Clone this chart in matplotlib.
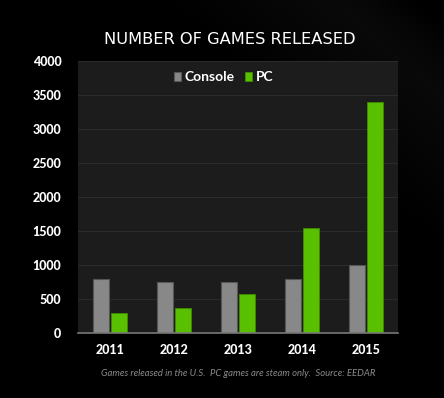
import matplotlib
matplotlib.use("Agg")
import matplotlib.pyplot as plt
import numpy as np

years = ["2011", "2012", "2013", "2014", "2015"]
console = [800, 750, 750, 800, 1000]
pc = [300, 375, 580, 1550, 3400]
yticks = [0, 500, 1000, 1500, 2000, 2500, 3000, 3500, 4000]

fig = plt.figure(figsize=(4.44, 3.98), dpi=100)
fig.patch.set_facecolor("black")

# subtle background sheen (decorative)
bg = fig.add_axes([0, 0, 1, 1], zorder=-10)
bg.axis("off")
gx, gy = np.meshgrid(np.linspace(0, 1, 200), np.linspace(0, 1, 200))
d = gx + (1 - gy)
band = np.clip((d - 1.35) / 0.5, 0, 1) * np.clip((1.95 - d) / 0.2, 0, 1)
img = np.zeros((200, 200, 3)) + (band * 0.045)[..., None]
bg.imshow(img, extent=[0, 1, 0, 1], aspect="auto", origin="upper")
bg.set_xlim(0, 1)
bg.set_ylim(0, 1)

ax = fig.add_axes([78/444, 1-333/398, 320/444, (333-61)/398])
ax.set_facecolor("#1c1c1c")
x = np.arange(len(years))
w = 0.245
ax.bar(x - 0.145, console, w, color="#888888", edgecolor="#555555", linewidth=0.8, label="Console", zorder=3)
ax.bar(x + 0.145, pc, w, color="#58c000", edgecolor="#3f8a00", linewidth=0.6, label="PC", zorder=3)
ax.set_xlim(-0.5, 4.5)
ax.set_ylim(0, 4000)
ax.set_yticks(yticks)
ax.set_yticklabels([str(v) for v in yticks])
ax.set_xticks(x)
ax.set_xticklabels(years)
ax.yaxis.grid(True, color="#2b2b2b", linewidth=0.8, zorder=0)
for s in ["top", "right", "left"]:
    ax.spines[s].set_visible(False)
ax.spines["bottom"].set_color("#777777")
ax.spines["bottom"].set_linewidth(1.2)
ax.spines["bottom"].set_zorder(4)
ax.tick_params(axis="both", length=0, colors="white", labelsize=9)
ax.tick_params(axis="y", pad=12)
ax.tick_params(axis="x", pad=8)
for lab in ax.get_xticklabels() + ax.get_yticklabels():
    lab.set_fontweight("black")
    lab.set_family("Lato")

leg = ax.legend(loc="upper center", bbox_to_anchor=(0.455, 1.0), ncol=2, frameon=False,
                handlelength=0.55, handleheight=0.55, handletextpad=0.25, columnspacing=0.7,
                prop={"size": 10, "weight": "bold", "family": "Lato"}, borderaxespad=0.35)
for t in leg.get_texts():
    t.set_color("white")

fig.text(230/444, 1-40/398, "NUMBER OF GAMES RELEASED", color="white", fontsize=11.7,
         ha="center", va="center")
fig.text(238/444, 1-373/398, "Games released in the U.S.  PC games are steam only.  Source: EEDAR",
         color="#8a8a8a", fontsize=6.8, style="italic", ha="center", va="center", family="Lato")

fig.savefig("out.png", dpi=100, facecolor=fig.get_facecolor())
